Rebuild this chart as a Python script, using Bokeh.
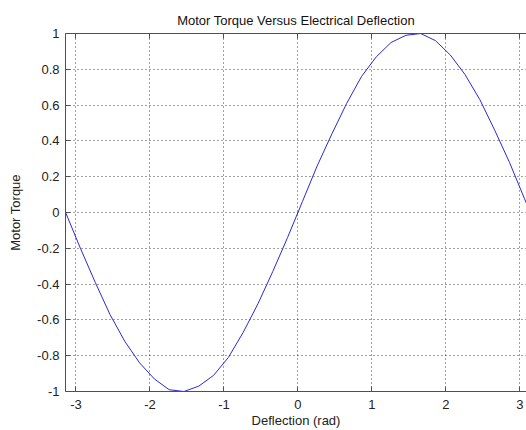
from bokeh.plotting import figure
from bokeh.models import Range1d, LinearAxis, FixedTicker, CustomJSTickFormatter
from bokeh.embed import file_html
from bokeh.resources import INLINE

title_text = "Motor Torque Versus Electrical Deflection"
x_label = "Deflection (rad)"
y_label = "Motor Torque"

deflection = [-3.14, -2.94, -2.74, -2.54, -2.34, -2.14, -1.94, -1.74, -1.54, -1.34,
              -1.14, -0.94, -0.74, -0.54, -0.34, -0.14, 0.06, 0.26, 0.46, 0.66,
              0.86, 1.06, 1.26, 1.46, 1.66, 1.86, 2.06, 2.26, 2.46, 2.66,
              2.86, 3.06, 3.14]
torque = [0.00, -0.20, -0.39, -0.57, -0.72, -0.84, -0.93, -0.99, -1.00, -0.97,
          -0.91, -0.81, -0.67, -0.51, -0.33, -0.14, 0.06, 0.26, 0.44, 0.61,
          0.76, 0.87, 0.95, 0.99, 1.00, 0.96, 0.88, 0.77, 0.63, 0.46,
          0.28, 0.08, 0.00]

x_ticks = [-3, -2, -1, 0, 1, 2, 3]
x_tick_labels = ["-3", "-2", "-1", "0", "1", "2", "3"]
y_ticks = [-1, -0.8, -0.6, -0.4, -0.2, 0, 0.2, 0.4, 0.6, 0.8, 1]
y_tick_labels = ["-1", "-0.8", "-0.6", "-0.4", "-0.2", "0", "0.2", "0.4", "0.6", "0.8", "1"]

FONT = "Liberation Sans"
FS = "13px"

p = figure(width=526, height=430, output_backend="svg", toolbar_location=None,
           x_range=Range1d(-3.1416, 3.09), y_range=Range1d(-1, 1),
           min_border_left=65, min_border_right=0, min_border_top=33, min_border_bottom=39,
           background_fill_color="white", border_fill_color="white",
           x_axis_label=x_label, y_axis_label=y_label)

p.title.text = title_text
p.title.align = "center"
p.title.text_font = FONT
p.title.text_font_size = FS
p.title.text_font_style = "normal"
p.title.text_color = "#111111"
p.title.standoff = 11

p.outline_line_color = None

p.line(deflection, torque, line_color="#2a2ad0", line_width=1.0)

for ax in (p.xaxis[0], p.yaxis[0]):
    ax.major_tick_in = 5
    ax.major_tick_out = 0
    ax.minor_tick_in = 0
    ax.minor_tick_out = 0
    ax.axis_line_color = "#505050"
    ax.major_tick_line_color = "#505050"
    ax.major_label_text_font = FONT
    ax.major_label_text_font_size = FS
    ax.major_label_text_color = "#222222"
    ax.axis_label_text_font = FONT
    ax.axis_label_text_font_size = FS
    ax.axis_label_text_font_style = "normal"
    ax.axis_label_text_color = "#222222"

p.xaxis[0].ticker = FixedTicker(ticks=x_ticks)
p.xaxis[0].major_label_overrides = {t: s for t, s in zip(x_ticks, x_tick_labels)}
p.yaxis[0].ticker = FixedTicker(ticks=y_ticks)
p.yaxis[0].major_label_overrides = {t: s for t, s in zip(y_ticks, y_tick_labels)}
p.xaxis[0].major_label_standoff = 8
p.xaxis[0].axis_label_standoff = 1
p.yaxis[0].major_label_standoff = 6
p.yaxis[0].axis_label_standoff = 11

top = LinearAxis(ticker=FixedTicker(ticks=x_ticks),
                 formatter=CustomJSTickFormatter(code="return ''"))
top.major_tick_in = 5
top.major_tick_out = 0
top.minor_tick_in = 0
top.minor_tick_out = 0
top.axis_line_color = "#505050"
top.major_tick_line_color = "#505050"
top.major_label_standoff = 0
p.add_layout(top, "above")

p.xgrid.ticker = FixedTicker(ticks=x_ticks)
p.ygrid.ticker = FixedTicker(ticks=y_ticks)
for g in (p.xgrid[0], p.ygrid[0]):
    g.grid_line_color = "black"
    g.grid_line_alpha = 0.75
    g.grid_line_dash = "1 3"
    g.grid_line_width = 1

open("out.html", "w").write(file_html(p, INLINE))
